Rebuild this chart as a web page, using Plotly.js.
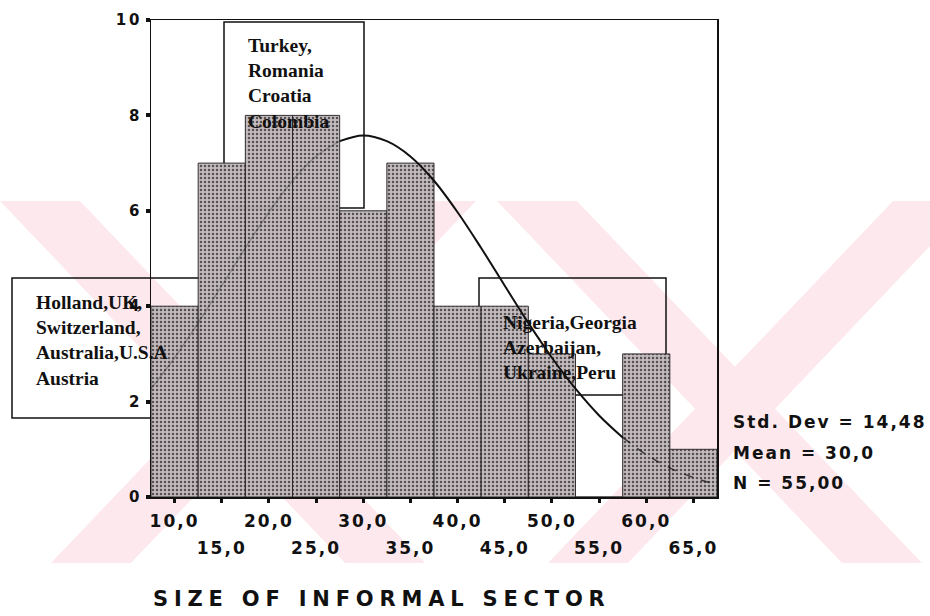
<!DOCTYPE html>
<html>
<head>
<meta charset="utf-8">
<script src="https://cdn.plot.ly/plotly-3.0.1.min.js"></script>
<style>
html,body{margin:0;padding:0;background:#fff;}
#chart{width:930px;height:616px;}
.xtick text,.x2tick text{letter-spacing:2px;}
.ytick text{letter-spacing:3px;}
.annotation text{letter-spacing:2px;}
.annotation[data-index="3"] text{letter-spacing:5.8px;}
</style>
</head>
<body>
<div id="chart"></div>
<script>
// ---- data ----
const binCenters = [10, 15, 20, 25, 30, 35, 40, 45, 50, 55, 60, 65];
const counts     = [4, 7, 8, 8, 6, 7, 4, 4, 3, 0, 3, 1];
const rowOneTicks = [10, 20, 30, 40, 50, 60];
const rowOneText  = ['10,0', '20,0', '30,0', '40,0', '50,0', '60,0'];
const rowTwoTicks = [15, 25, 35, 45, 55, 65];
const rowTwoText  = ['15,0', '25,0', '35,0', '45,0', '55,0', '65,0'];
const yTicks = [0, 2, 4, 6, 8, 10];
const yText  = ['0', '2', '4', '6', '8', '10'];
// normal curve
const curveX = [7.5, 10, 12.5, 15, 17.5, 20, 22.5, 25, 27.5, 30, 32.5, 35, 37.5, 40, 42.5, 45, 47.5, 50, 52.5, 55, 57.5, 60, 62.5, 65, 67.5];
const curveY = [2.27, 2.92, 3.65, 4.43, 5.22, 5.97, 6.63, 7.14, 7.46, 7.58, 7.46, 7.14, 6.63, 5.97, 5.22, 4.43, 3.65, 2.92, 2.27, 1.71, 1.25, 0.89, 0.61, 0.41, 0.26];
const statsText = ['Std. Dev = 14,48', 'Mean = 30,0', 'N = 55,00'];
const titleText = 'SIZE OF INFORMAL SECTOR';
const groupLow  = ['Holland,UK,', 'Switzerland,', 'Australia,U.S.A', 'Austria'];
const groupMid  = ['Turkey,', 'Romania', 'Croatia', 'Colombia'];
const groupHigh = ['Nigeria,Georgia', 'Azerbaijan,', 'Ukraine,Peru'];

// ---- layout helpers (pixel geometry of the page) ----
const L = 151, R = 717, T = 20, B = 497;
const px2x = p => (p - L) / (R - L);
const px2y = p => (B - p) / (B - T);
const tickFont = {family: 'DejaVu Sans', size: 17, color: '#111', weight: 'bold'};
const serif = {family: 'Liberation Serif', size: 19.5, color: '#111'};

function rect(x0, y0, x1, y1, fill, lw) {
  return {type: 'rect', layer: 'below', xref: 'paper', yref: 'paper',
    x0: px2x(x0), x1: px2x(x1), y0: px2y(y1), y1: px2y(y0),
    fillcolor: fill, line: {color: '#111', width: lw}};
}
function textBlock(x0, y0, lines) {
  return {type: 'rect', layer: 'above', xref: 'paper', yref: 'paper',
    x0: px2x(x0), x1: px2x(x0 + 150), y0: px2y(y0 + 120), y1: px2y(y0),
    fillcolor: 'rgba(0,0,0,0)', line: {width: 0},
    label: {text: lines.map(s => '<b>' + s + '</b>').join('<br>'), font: serif,
      textposition: 'top left', padding: 0}};
}
// faint watermark: two large crosses
function arm(xTop, xBot) {
  const h = 40, yTop = 201, yBot = 563;
  const p = (x, y) => px2x(x) + ',' + px2y(y);
  return {type: 'path', layer: 'below', xref: 'paper', yref: 'paper',
    path: 'M' + p(xTop - h, yTop) + 'L' + p(xTop + h, yTop) + 'L' + p(xBot + h, yBot) + 'L' + p(xBot - h, yBot) + 'Z',
    fillcolor: '#fde9ed', line: {width: 0}};
}
function cross(cx) { return [arm(cx - 198, cx + 147), arm(cx + 198, cx - 147)]; }

const boxes = [[12, 278, 200, 418], [224, 22, 364, 208], [479, 278, 666, 395]];
const shapes = [].concat(
  boxes.map(b => rect(b[0], b[1], b[2], b[3], '#ffffff', 0)),
  cross(238), cross(735),
  boxes.map(b => rect(b[0], b[1], b[2], b[3], 'rgba(0,0,0,0)', 1.5)),
  [textBlock(33, 289, groupLow), textBlock(245, 32, groupMid), textBlock(500, 309, groupHigh)]
);

const statY = [422, 453, 483];
const annotations = statsText.map((t, i) => ({
  text: t, xref: 'paper', yref: 'paper', x: px2x(731), y: px2y(statY[i]),
  xanchor: 'left', yanchor: 'middle', align: 'left', showarrow: false, font: tickFont
}));
annotations.push({
  text: titleText, xref: 'paper', yref: 'paper', x: px2x(151), y: px2y(599),
  xanchor: 'left', yanchor: 'middle', align: 'left', showarrow: false,
  font: {family: 'DejaVu Sans', size: 21, color: '#111', weight: 'bold'}
});

const traces = [
  {type: 'bar', x: binCenters, y: counts, width: 5, hoverinfo: 'skip',
   marker: {color: '#b4adb0', opacity: 0.95,
     line: {color: '#2a2627', width: 1},
     pattern: {shape: '.', fgcolor: '#4e4749', bgcolor: '#c0b8bb', size: 4, solidity: 0.3}}},
  {type: 'scatter', mode: 'lines', x: curveX.slice(0, 9), y: curveY.slice(0, 9), hoverinfo: 'skip',
   line: {color: 'rgba(30,30,30,0.3)', width: 1.5, shape: 'spline'}},
  {type: 'scatter', mode: 'lines', x: curveX.slice(8, 21), y: curveY.slice(8, 21), hoverinfo: 'skip',
   line: {color: '#111', width: 2, shape: 'spline'}},
  {type: 'scatter', mode: 'lines', x: curveX.slice(20), y: curveY.slice(20), hoverinfo: 'skip',
   line: {color: 'rgba(20,20,20,0.75)', width: 1.5, dash: 'dash', shape: 'spline'}},
  {type: 'scatter', mode: 'lines', x: [], y: [], xaxis: 'x2', hoverinfo: 'skip', showlegend: false}
];

const layout = {
  width: 930, height: 616,
  margin: {l: L, r: 930 - R, t: T, b: 616 - B, pad: 0},
  paper_bgcolor: '#ffffff', plot_bgcolor: 'rgba(0,0,0,0)',
  showlegend: false, bargap: 0,
  xaxis: {range: [7.5, 67.5], tickmode: 'array', tickvals: binCenters,
    ticktext: binCenters.map(v => { const i = rowOneTicks.indexOf(v); return i >= 0 ? rowOneText[i] : ''; }),
    ticks: 'outside', ticklen: 4, tickwidth: 3, tickcolor: '#111',
    showline: true, linecolor: '#111', linewidth: 1.5, mirror: true,
    showgrid: false, zeroline: false, tickfont: tickFont, ticklabelstandoff: 4, fixedrange: true},
  xaxis2: {overlaying: 'x', anchor: 'y', side: 'bottom', range: [7.5, 67.5],
    tickmode: 'array', tickvals: rowTwoTicks, ticktext: rowTwoText,
    ticks: '', showline: false, showgrid: false, zeroline: false,
    tickfont: tickFont, ticklabelstandoff: 39, fixedrange: true},
  yaxis: {range: [0, 10], tickmode: 'array', tickvals: yTicks, ticktext: yText,
    ticks: 'outside', ticklen: 4, tickwidth: 4, tickcolor: '#111',
    showline: true, linecolor: '#111', linewidth: 1.5, mirror: true,
    showgrid: false, zeroline: false,
    tickfont: {family: 'DejaVu Sans', size: 15, color: '#111', weight: 'bold'}, ticklabelstandoff: 0, fixedrange: true},
  shapes: shapes,
  annotations: annotations
};

Plotly.newPlot('chart', traces, layout, {staticPlot: true, displayModeBar: false});
</script>
</body>
</html>
